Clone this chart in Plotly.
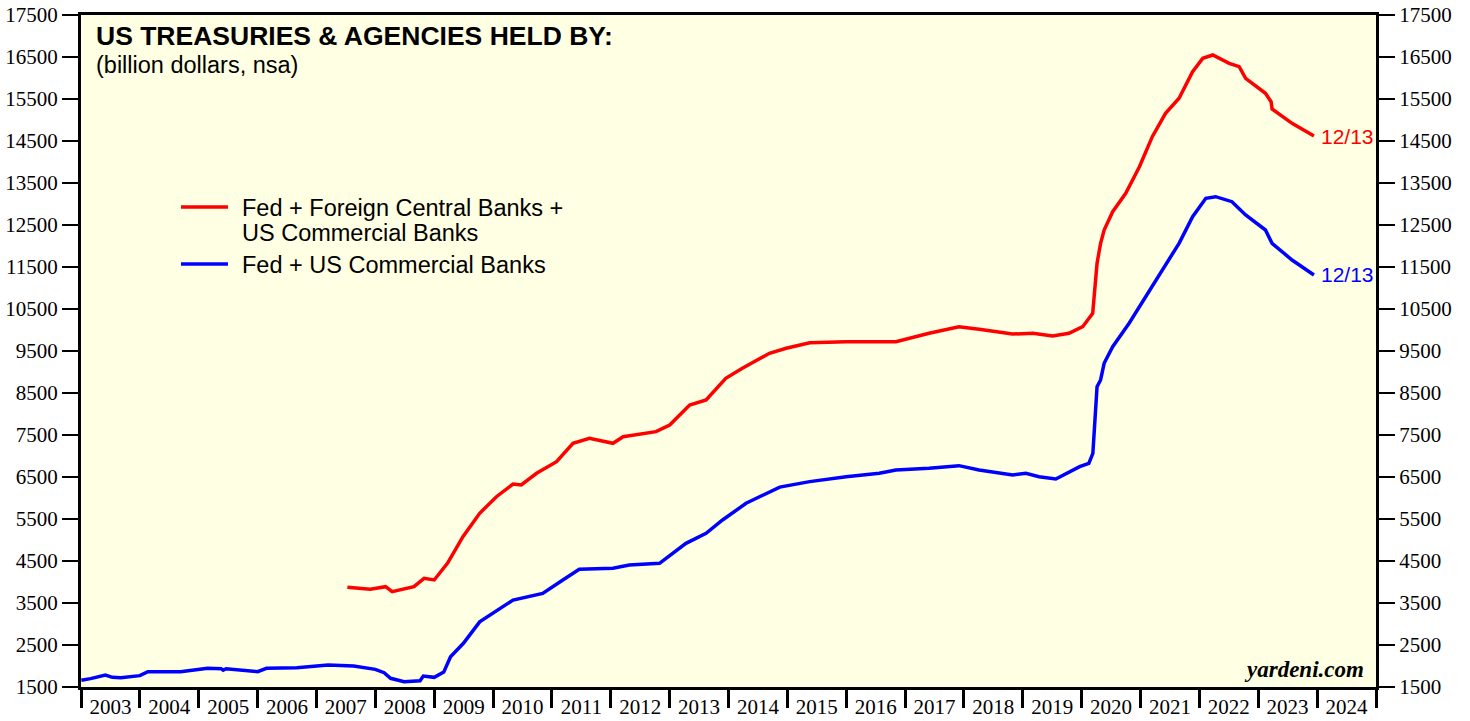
import plotly.graph_objects as go

# Fed + US Commercial Banks (billion dollars)
blue_dates = ["2003-01-03","2003-03-01","2003-06-01","2003-07-15","2003-09-05","2004-01-01","2004-02-20",
              "2004-09-10","2005-02-25","2005-05-20","2005-06-01","2005-06-20","2006-01-01","2006-02-25",
              "2006-09-01","2007-03-15","2007-08-20","2008-01-01","2008-02-25","2008-04-05","2008-06-28",
              "2008-10-05","2008-10-25","2009-01-01","2009-03-01","2009-04-12","2009-07-01","2009-10-10",
              "2010-05-05","2010-11-05","2011-03-10","2011-06-20","2012-01-15","2012-04-25","2012-10-30",
              "2013-04-12","2013-08-15","2013-11-25","2014-04-20","2014-09-15","2014-11-15","2015-05-20",
              "2016-01-01","2016-07-25","2016-11-05","2017-05-30","2017-12-01","2018-04-05","2018-10-30",
              "2019-01-20","2019-04-12","2019-07-25","2019-11-05","2019-12-20","2020-02-15","2020-03-11",
              "2020-04-06","2020-04-28","2020-05-20","2020-07-12","2020-10-22","2021-02-01","2021-05-18",
              "2021-08-28","2021-11-20","2022-02-10","2022-04-12","2022-07-22","2022-10-15","2023-02-15",
              "2023-03-28","2023-07-30","2023-12-13"]
blue_vals = [1660,1700,1786,1730,1720,1770,1865,
             1865,1945,1935,1900,1935,1865,1945,
             1960,2024,2000,1920,1840,1707,1627,
             1650,1760,1730,1855,2220,2540,3050,
             3571,3730,4048,4302,4326,4405,4445,
             4921,5160,5476,5874,6150,6260,6390,
             6507,6588,6667,6707,6770,6667,6548,
             6588,6507,6452,6667,6745,6826,7064,
             8650,8810,9207,9602,10160,10793,11429,
             12064,12698,13136,13174,13055,12738,12381,
             12064,11667,11310]

# Fed + Foreign Central Banks + US Commercial Banks (billion dollars)
red_dates = ["2007-07-12","2007-12-01","2008-03-05","2008-04-15","2008-08-28","2008-10-30","2009-01-01",
             "2009-03-25","2009-06-28","2009-10-10","2010-01-22","2010-05-05","2010-06-25","2010-09-28",
             "2011-01-30","2011-05-12","2011-08-22","2012-01-15","2012-03-18","2012-10-08","2013-01-01",
             "2013-05-05","2013-08-15","2013-12-15","2014-03-28","2014-09-12","2014-12-25","2015-05-20",
             "2016-01-01","2016-11-05","2017-05-30","2017-12-01","2018-04-05","2018-10-30","2019-03-05",
             "2019-07-05","2019-10-15","2019-12-20","2020-01-08","2020-03-10","2020-04-06","2020-04-28",
             "2020-05-20","2020-07-12","2020-10-01","2020-12-25","2021-03-15","2021-06-05","2021-08-28",
             "2021-11-20","2022-01-22","2022-03-25","2022-07-05","2022-09-05","2022-10-15","2023-02-15",
             "2023-03-22","2023-03-28","2023-07-30","2023-12-13"]
red_vals = [3874,3826,3888,3769,3888,4088,4048,
            4450,5079,5636,6031,6333,6310,6588,
            6864,7302,7421,7302,7460,7579,7738,
            8214,8333,8850,9088,9445,9564,9697,
            9721,9721,9921,10079,10016,9905,9921,
            9857,9921,10040,10079,10398,11588,12064,
            12381,12817,13255,13888,14603,15160,15517,
            16150,16468,16548,16350,16269,15993,15636,
            15436,15262,14921,14619]

red_name_lines = ["Fed + Foreign Central Banks +", "US Commercial Banks"]
blue_name_lines = ["Fed + US Commercial Banks"]
end_label = "12/13"

y_range = [1500, 17500]
x_range = ["2003-01-01", "2025-01-01"]

RED = "#FF0000"
BLUE = "#0000FF"
serif = "Liberation Serif"
sans = "Liberation Sans"

fig = go.Figure()
fig.add_trace(go.Scatter(x=red_dates, y=red_vals, mode="lines", name=" ".join(red_name_lines),
                         line=dict(color=RED, width=3.5), showlegend=False))
fig.add_trace(go.Scatter(x=blue_dates, y=blue_vals, mode="lines", name=" ".join(blue_name_lines),
                         line=dict(color=BLUE, width=3.5), showlegend=False))
# carrier for the right-hand axis
fig.add_trace(go.Scatter(x=[blue_dates[0]], y=[blue_vals[0]], yaxis="y2", mode="lines",
                         showlegend=False, hoverinfo="skip", line=dict(width=0)))

# end-of-series date labels
fig.add_annotation(x=red_dates[-1], y=red_vals[-1], text=end_label, showarrow=False,
                   xanchor="left", xshift=5, font=dict(family=sans, size=21, color=RED))
fig.add_annotation(x=blue_dates[-1], y=blue_vals[-1], text=end_label, showarrow=False,
                   xanchor="left", xshift=5, font=dict(family=sans, size=21, color=BLUE))

# legend (drawn by hand for tight line spacing)
leg_font = dict(family=sans, size=23.5, color="black")
key_x0, key_x1, text_x = 0.0772, 0.1135, 0.1225
legend_rows = [(RED, 0.7143, [0.7128, 0.6756], red_name_lines),
               (BLUE, 0.6295, [0.6280], blue_name_lines)]
for color, key_y, text_ys, lines in legend_rows:
    fig.add_shape(type="line", xref="paper", yref="paper", x0=key_x0, x1=key_x1,
                  y0=key_y, y1=key_y, line=dict(color=color, width=3.5))
    for ty, txt in zip(text_ys, lines):
        fig.add_annotation(xref="paper", yref="paper", x=text_x, y=ty, xanchor="left",
                           yanchor="middle", text=txt, showarrow=False, font=leg_font)

fig.add_annotation(xref="paper", yref="paper", x=0.010, y=0.994, xanchor="left", yanchor="top",
                   text="<b>US TREASURIES & AGENCIES HELD BY:</b>", showarrow=False,
                   font=dict(family=sans, size=26.5, color="black"))
fig.add_annotation(xref="paper", yref="paper", x=0.010, y=0.948, xanchor="left", yanchor="top",
                   text="(billion dollars, nsa)", showarrow=False,
                   font=dict(family=sans, size=23.5, color="black"))
fig.add_annotation(xref="paper", yref="paper", x=0.992, y=0.004, xanchor="right", yanchor="bottom",
                   text="<b><i>yardeni.com</i></b>", showarrow=False,
                   font=dict(family=serif, size=23, color="black"))

axis_font = dict(family=serif, size=21, color="black")
fig.update_layout(
    width=1470, height=721,
    margin=dict(l=81, r=94, t=15, b=34, autoexpand=False),
    paper_bgcolor="white",
    plot_bgcolor="#FFFFE3",
    showlegend=False,
    xaxis=dict(type="date", range=x_range, showgrid=False, zeroline=False, automargin=False,
               showline=True, linecolor="black", linewidth=3, mirror=True,
               ticks="outside", ticklen=18, tickwidth=3, tickcolor="black",
               dtick="M12", tick0="2003-01-01", tickformat="%Y", ticklabelmode="period",
               ticklabelstandoff=-19, tickfont=axis_font),
    yaxis=dict(range=y_range, showgrid=False, zeroline=False, automargin=False,
               showline=True, linecolor="black", linewidth=3,
               ticks="outside", ticklen=16, tickwidth=2, tickcolor="black",
               tick0=1500, dtick=1000, tickformat="d", tickfont=axis_font),
    yaxis2=dict(range=y_range, overlaying="y", side="right", showgrid=False, zeroline=False,
                automargin=False,
                showline=True, linecolor="black", linewidth=3,
                ticks="outside", ticklen=16, tickwidth=2, tickcolor="black",
                tick0=1500, dtick=1000, tickformat="d", tickfont=axis_font),
)

fig.write_html("out.html", config={"displayModeBar": False},
               post_script="document.body.style.margin='0';")
